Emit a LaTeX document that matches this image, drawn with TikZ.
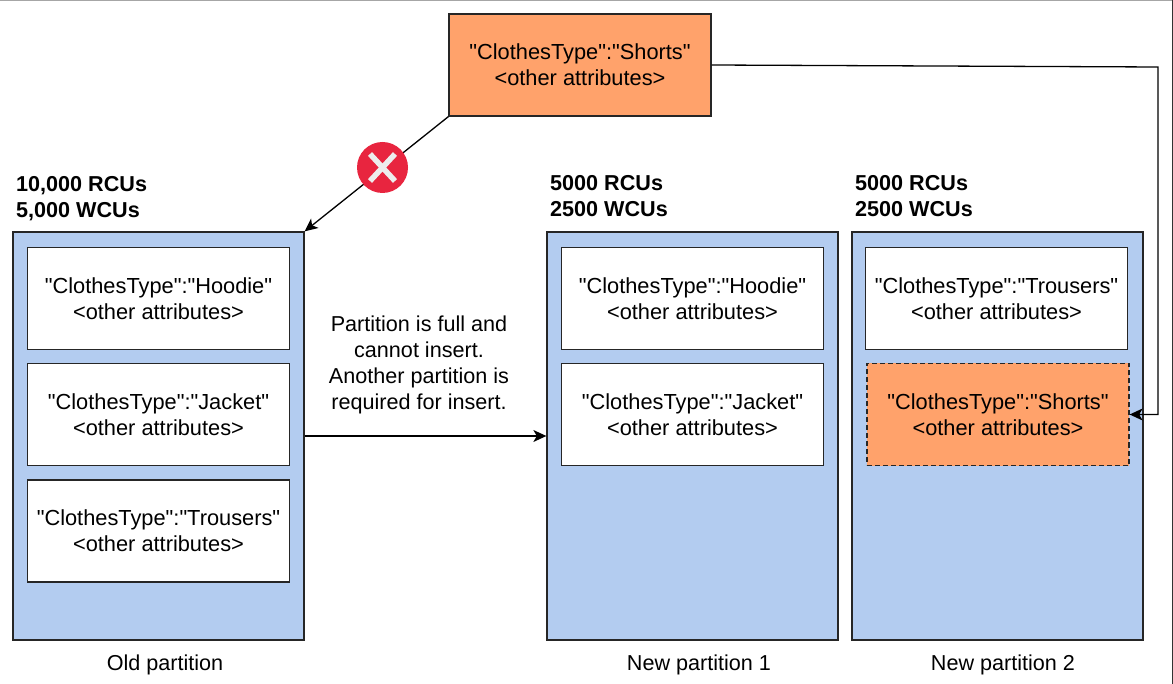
\documentclass[tikz,border=0pt]{standalone}
\usepackage{fontspec}
\setmainfont{Liberation Sans}[Ligatures=TeXOff]
\usetikzlibrary{arrows.meta}
\usepackage{xcolor}
\definecolor{partblue}{HTML}{B3CCF0}
\definecolor{itemorange}{HTML}{FFA26B}
\definecolor{crossred}{HTML}{E8253F}
\tikzset{
	partbox/.style={draw=black!85,line width=1.3pt,fill=partblue,inner sep=0pt,minimum width=291pt,minimum height=408pt},
	itembox/.style={draw=black!85,line width=1.3pt,fill=white,inner sep=0pt,minimum width=262.5pt,minimum height=102pt,align=center,font=\fontsize{21.8}{26}\selectfont},
	shortbox/.style={itembox,fill=itemorange},
	rateinfo/.style={anchor=west,align=left,inner sep=0pt,font=\fontsize{21.6}{26}\selectfont\bfseries},
	plaintext/.style={align=center,inner sep=0pt,font=\fontsize{21.6}{26}\selectfont},
	flow/.style={draw=black,line width=1.3pt,-{Stealth[length=13pt,width=12pt,inset=3.5pt]}}
}
\begin{document}
\begin{tikzpicture}[x=1pt,y=-1pt]
		\def\other{<other attributes>}
		\useasboundingbox (0,0) rectangle (1173,684);
		\draw[black!35,line width=1pt] (0,0.5) -- (1173,0.5);
		\draw[black!80,line width=1pt] (1172.5,0) -- (1172.5,684);
		% partitions
		\node[partbox] (oldpart) at (158.5,436) {};
		\node[partbox] (newpartone) at (692.5,436) {};
		\node[partbox] (newparttwo) at (997.5,436) {};
		\node[rateinfo] (oldrate) at (16,198.5) {10,000 RCUs\\5,000 WCUs};
		\node[rateinfo] (onerate) at (550,196.5) {5000 RCUs\\2500 WCUs};
		\node[rateinfo] (tworate) at (855,196.5) {5000 RCUs\\2500 WCUs};
		% items
		\node[shortbox,minimum width=262pt] (newitem) at (580,65) {"ClothesType":"Shorts"\\\other};
		\node[itembox] (oldhoodie) at (158.5,298.5) {"ClothesType":"Hoodie"\\\other};
		\node[itembox] (oldjacket) at (158.5,414.5) {"ClothesType":"Jacket"\\\other};
		\node[itembox] (oldtrousers) at (158.5,531) {"ClothesType":"Trousers"\\\other};
		\node[itembox] (onehoodie) at (692.5,298.5) {"ClothesType":"Hoodie"\\\other};
		\node[itembox] (onejacket) at (692.5,414.5) {"ClothesType":"Jacket"\\\other};
		\node[itembox] (twotrousers) at (996.5,298.5) {"ClothesType":"Trousers"\\\other};
		\node[shortbox,dash pattern=on 5pt off 3pt,minimum width=262pt] (twoshorts) at (998,414.5) {"ClothesType":"Shorts"\\\other};
		% labels
		\node[plaintext] (fulltext) at (419,365) {Partition is full and\\cannot insert.\\Another partition is\\required for insert.};
		\node[plaintext] (oldname) at (165,664.5) {Old partition};
		\node[plaintext] (onename) at (699,664.5) {New partition 1};
		\node[plaintext] (twoname) at (1003,664.5) {New partition 2};
		% connectors
		\coordinate (turntop) at (1158,67);
		\coordinate (turnbot) at (1158,414.5);
		\draw[flow] (newitem.south west) -- (oldpart.north east);
		\draw[flow] (oldpart) -- (newpartone);
		\draw[flow] (newitem.east) -- (turntop) -- (turnbot) -- (twoshorts.east);
		% red cross
		\node[circle,fill=crossred,inner sep=0pt,minimum size=51pt] (cross) at (382.5,167.5) {};
		\draw[black!7,line width=5.5pt] (cross.center) ++(-12.5,-13.5) -- ++(25,27);
		\draw[black!7,line width=5.5pt] (cross.center) ++(12.5,-13.5) -- ++(-25,27);
		\end{tikzpicture}
\end{document}
